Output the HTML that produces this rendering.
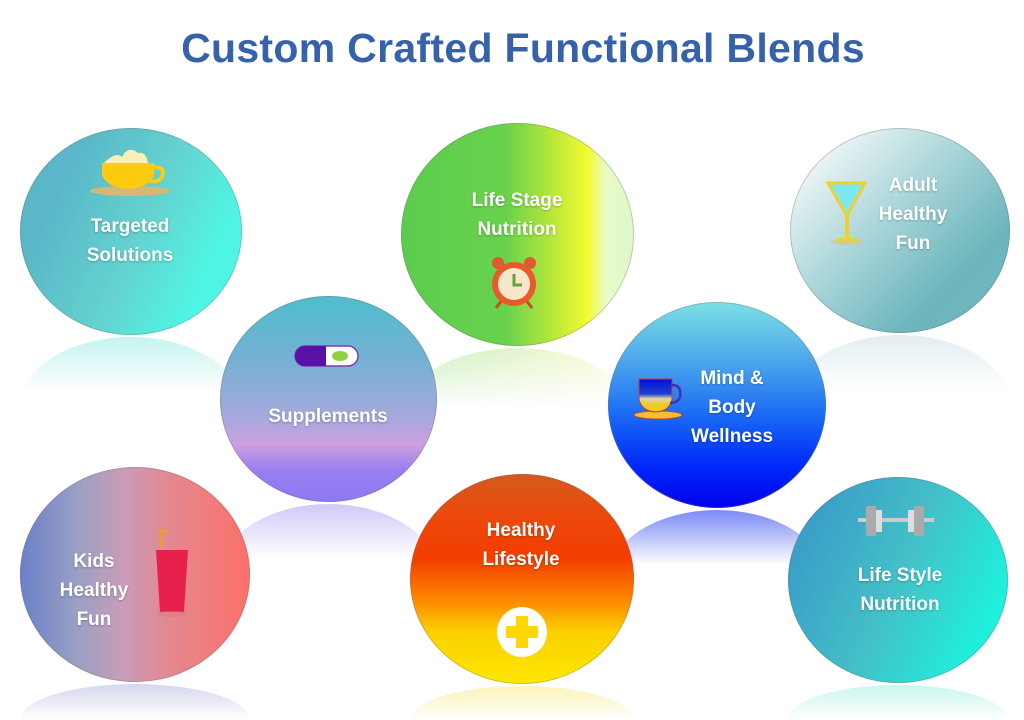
<!DOCTYPE html>
<html style="overflow:hidden;width:1024px;height:720px"><head><meta charset="utf-8"><style>
html,body{margin:0;overflow:hidden}
body{width:1024px;height:720px;background:#fff;position:relative;font-family:"Liberation Sans",sans-serif}
h1{position:absolute;left:0;width:1002px;padding-left:22px;top:25px;margin:0;text-align:center;font-size:41px;color:#3562aa;font-weight:bold;letter-spacing:0.3px}
.c{position:absolute;border-radius:50%;box-shadow:inset 0 0 0 1px rgba(120,120,120,.35)}
.r{position:absolute;height:70px;border-radius:50% 50% 0 0 / 100% 100% 0 0}
.t{position:absolute;color:#fff;font-weight:bold;font-size:19px;line-height:29px;text-align:center;text-shadow:0 1px 2px rgba(0,0,0,.25)}
</style></head><body>
<h1>Custom Crafted Functional Blends</h1>

<div class="r" style="left:20px;top:337px;width:222px;background:linear-gradient(#c5f4f0,#fff 55px)"></div>
<div class="r" style="left:401px;top:348px;width:233px;background:linear-gradient(#fff0,#fff 60px),linear-gradient(90deg,#c7eec0,#eef8d0 70%,#fbfbe0)"></div>
<div class="r" style="left:790px;top:335px;width:220px;background:linear-gradient(#e2eef0,#fff 55px)"></div>
<div class="r" style="left:220px;top:504px;width:217px;background:linear-gradient(#cfcaf8,#fff 55px)"></div>
<div class="r" style="left:608px;top:510px;width:218px;background:linear-gradient(#7a8af5,#fff 55px)"></div>
<div class="r" style="left:20px;top:684px;width:230px;height:36px;background:linear-gradient(#d6d6ee,#fff 36px)"></div>
<div class="r" style="left:410px;top:686px;width:224px;height:34px;background:linear-gradient(#fbf3b8,#fff 34px)"></div>
<div class="r" style="left:788px;top:685px;width:220px;height:35px;background:linear-gradient(#c8f6ee,#fff 35px)"></div>

<div class="c" style="left:20px;top:128px;width:222px;height:207px;background:linear-gradient(115deg,#5ab6c8 20%,#64d4d0 55%,#4ff5e4 80%)"></div>
<div class="c" style="left:401px;top:123px;width:233px;height:223px;background:linear-gradient(90deg,#5ccc4e 0%,#68d24c 45%,#b8e83a 65%,#f4fb2e 80%,#e8fcc8 88%,#ddf8cc 100%)"></div>
<div class="c" style="left:790px;top:128px;width:220px;height:205px;background:linear-gradient(135deg,#f4f8f8 10%,#a6d4d8 45%,#6bb5bc 75%,#74b8bf)"></div>
<div class="c" style="left:220px;top:296px;width:217px;height:206px;background:linear-gradient(#4ebdcc 0%,#74b1d4 30%,#a8a8dc 60%,#cc9fe0 72%,#9a7ef0 85%,#8c78f4 100%)"></div>
<div class="c" style="left:608px;top:302px;width:218px;height:206px;background:linear-gradient(#7ce0e4 0%,#4aa4ec 30%,#1a6af4 55%,#0028f8 80%,#0000ee 100%)"></div>
<div class="c" style="left:20px;top:467px;width:230px;height:215px;background:linear-gradient(90deg,#6a80c8 0%,#9aa0c4 25%,#c89cb8 45%,#e48890 65%,#fc7068 100%)"></div>
<div class="c" style="left:410px;top:474px;width:224px;height:210px;background:linear-gradient(#d45a1c 0%,#ec4a0c 20%,#f43c00 40%,#fc8800 60%,#fcd000 75%,#fce800 100%)"></div>
<div class="c" style="left:788px;top:477px;width:220px;height:206px;background:linear-gradient(115deg,#3aa0c8 15%,#44c0c8 50%,#1ef0dc 85%)"></div>

<svg style="position:absolute;left:88px;top:143px" width="84" height="56">
<ellipse cx="42" cy="48" rx="40" ry="5" fill="#d8b870"/>
<path d="M16 20 Q28 8 34 14 Q40 2 50 10 Q58 8 60 20 Z" fill="#fbefb8"/>
<path d="M14 20 H66 V32 Q62 44 40 46 Q18 44 14 32 Z" fill="#fdcc10"/>
<path d="M66 24 Q78 24 74 34 Q70 40 62 38" fill="none" stroke="#fdcc10" stroke-width="4"/>
</svg>
<svg style="position:absolute;left:294px;top:344px" width="66" height="24">
<rect x="1" y="2" width="63" height="20" rx="10" fill="#fff" stroke="#7a40b0" stroke-width="1.5"/>
<path d="M11 2 H32 V22 H11 A10 10 0 0 1 11 2Z" fill="#5a10a8"/>
<ellipse cx="46" cy="12" rx="8" ry="5" fill="#8ed040"/>
</svg>
<svg style="position:absolute;left:488px;top:254px" width="52" height="56">
<circle cx="10" cy="9" r="6" fill="#e05a30"/><circle cx="42" cy="9" r="6" fill="#e05a30"/>
<line x1="14" y1="46" x2="8" y2="54" stroke="#d04820" stroke-width="3"/><line x1="38" y1="46" x2="44" y2="54" stroke="#d04820" stroke-width="3"/>
<circle cx="26" cy="30" r="22" fill="#e85a2c"/><circle cx="26" cy="30" r="16" fill="#f4e8c8"/>
<path d="M26 20 V31 H34" stroke="#6aa040" stroke-width="3" fill="none"/>
</svg>
<svg style="position:absolute;left:825px;top:180px" width="44" height="66">
<ellipse cx="22" cy="62" rx="18" ry="3" fill="#cccc80" opacity=".6"/>
<path d="M3 3 H40 L22 36 Z" fill="#7ee8f0" stroke="#f0d030" stroke-width="3"/>
<line x1="22" y1="36" x2="22" y2="58" stroke="#f0d030" stroke-width="4"/>
<line x1="12" y1="60" x2="32" y2="60" stroke="#f0d030" stroke-width="4"/>
</svg>
<svg style="position:absolute;left:632px;top:377px" width="54" height="44">
<defs><linearGradient id="mg" x1="0" y1="0" x2="0" y2="1"><stop offset="0" stop-color="#0010e0"/><stop offset=".45" stop-color="#2040d0"/><stop offset=".6" stop-color="#e0d8a0"/><stop offset=".8" stop-color="#f0c820"/></linearGradient></defs>
<ellipse cx="26" cy="38" rx="24" ry="4" fill="#f0c030" stroke="#c04040"/>
<path d="M7 2 H40 V22 Q38 34 24 35 Q9 34 7 22 Z" fill="url(#mg)" stroke="#c04040"/>
<path d="M40 8 Q50 8 48 20 Q46 26 38 26" fill="none" stroke="#4030b0" stroke-width="2.5"/>
</svg>
<svg style="position:absolute;left:152px;top:528px" width="40" height="90">
<path d="M10 20 L8 4 L16 2" stroke="#f0a020" stroke-width="2.5" fill="none"/>
<path d="M4 22 H36 L32 84 H8 Z" fill="#e8204c"/>
<ellipse cx="20" cy="86" rx="16" ry="3" fill="#d08080" opacity=".5"/>
</svg>
<svg style="position:absolute;left:494px;top:606px" width="56" height="52">
<circle cx="28" cy="26" r="25" fill="#fff"/>
<path d="M22 10 H34 V20 H44 V32 H34 V42 H22 V32 H12 V20 H22 Z" fill="#fcd800"/>
</svg>
<svg style="position:absolute;left:856px;top:504px" width="80" height="34">
<rect x="2" y="14" width="76" height="4" fill="#ccc"/>
<rect x="10" y="2" width="10" height="30" rx="2" fill="#aaa"/><rect x="20" y="6" width="6" height="22" fill="#ddd"/>
<rect x="58" y="2" width="10" height="30" rx="2" fill="#aaa"/><rect x="52" y="6" width="6" height="22" fill="#ddd"/>
</svg>

<div class="t" style="left:40px;top:212px;width:180px">Targeted<br>Solutions</div>
<div class="t" style="left:417px;top:186px;width:200px">Life Stage<br>Nutrition</div>
<div class="t" style="left:853px;top:171px;width:120px">Adult<br>Healthy<br>Fun</div>
<div class="t" style="left:228px;top:402px;width:200px">Supplements</div>
<div class="t" style="left:672px;top:364px;width:120px">Mind &amp;<br>Body<br>Wellness</div>
<div class="t" style="left:34px;top:547px;width:120px">Kids<br>Healthy<br>Fun</div>
<div class="t" style="left:421px;top:516px;width:200px">Healthy<br>Lifestyle</div>
<div class="t" style="left:800px;top:561px;width:200px">Life Style<br>Nutrition</div>
</body></html>
